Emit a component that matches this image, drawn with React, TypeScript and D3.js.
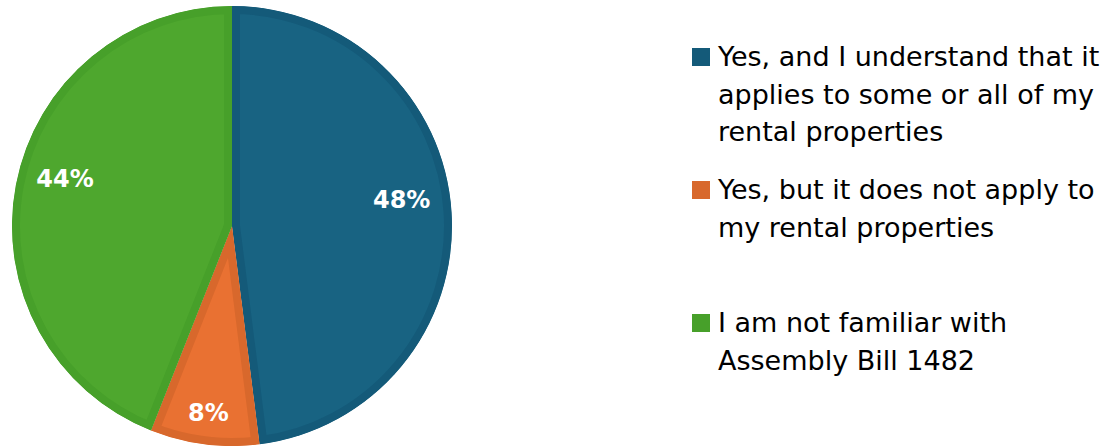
import React from "react";
import * as d3 from "d3";

const categories = [
  "Yes, and I understand that it applies to some or all of my rental properties",
  "Yes, but it does not apply to my rental properties",
  "I am not familiar with Assembly Bill 1482",
];
const values = [48, 8, 44];
const labelText = ["48%", "8%", "44%"];
const legendLines = [
  ["Yes, and I understand that it", "applies to some or all of my", "rental properties"],
  ["Yes, but it does not apply to", "my rental properties"],
  ["I am not familiar with", "Assembly Bill 1482"],
];
const fillColors = ["#186382", "#E97132", "#4EA72E"];
const borderColors = ["#145A79", "#D8682C", "#47A02A"];

const W = 1118;
const H = 448;
const cx = 232;
const cy = 226;
const R = 220;
const legendTop = [66, 199, 332];

export default function App() {
  const pie = d3.pie<number>().sort(null).value((d) => d);
  const arcs = pie(values);
  const arc = d3.arc<d3.PieArcDatum<number>>().innerRadius(0).outerRadius(R);

  return (
    <svg width={W} height={H} style={{ position: "absolute", left: 0, top: 0 }}>
      <g transform={`translate(${cx},${cy})`}>
        <defs>
          {arcs.map((a, i) => (
            <clipPath id={`clip${i}`} key={i}>
              <path d={arc(a) || ""} />
            </clipPath>
          ))}
        </defs>
        {arcs.map((a, i) => (
          <path
            key={i}
            d={arc(a) || ""}
            fill={fillColors[i]}
            stroke={borderColors[i]}
            strokeWidth={16}
            clipPath={`url(#clip${i})`}
          />
        ))}
      </g>
      {arcs.map((a, i) => {
        const big = a.data >= 20;
        const mid = (a.startAngle + a.endAngle) / 2;
        const lr = big ? 170 : 188;
        const x = cx + lr * Math.sin(mid);
        const y = cy - lr * Math.cos(mid) + (big ? -16 : 0);
        return (
          <text
            key={i}
            x={x}
            y={y}
            dy="0.36em"
            textAnchor="middle"
            fill="#ffffff"
            fontFamily="DejaVu Sans, sans-serif"
            fontWeight="bold"
            fontSize={24}
          >
            {labelText[i]}
          </text>
        );
      })}
      {categories.map((c, i) => (
        <g key={i}>
          <rect
            x={692}
            y={legendTop[i] - 18}
            width={18}
            height={18}
            fill={borderColors[i]}
          />
          <text
            fontFamily="DejaVu Sans, sans-serif"
            fontSize={27}
            fill="#000000"
          >
            {legendLines[i].map((l, j) => (
              <tspan key={j} x={718} y={legendTop[i] + j * 37.5}>
                {l}
              </tspan>
            ))}
          </text>
        </g>
      ))}
    </svg>
  );
}
